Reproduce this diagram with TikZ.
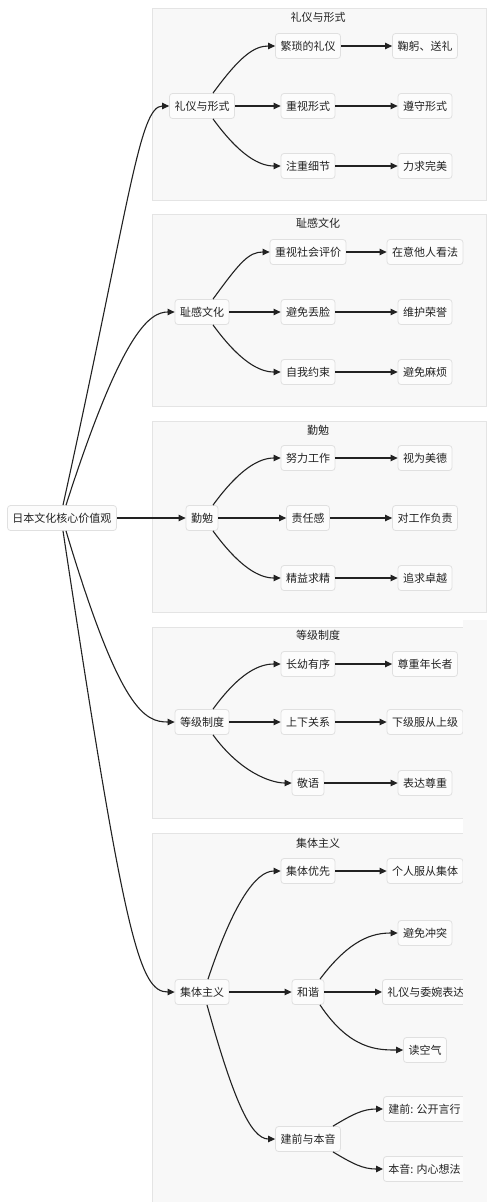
\documentclass[tikz,border=0pt]{standalone}
\usepackage{fontspec}
\setmainfont{Noto Sans CJK SC}
\usetikzlibrary{arrows.meta}

\definecolor{grpfill}{HTML}{F8F8F8}
\definecolor{grpline}{HTML}{E4E4E4}
\definecolor{itemfill}{HTML}{FCFCFC}
\definecolor{itemline}{HTML}{E0E0E0}
\definecolor{ink}{HTML}{222222}

\begin{document}
\begin{tikzpicture}[x=1pt,y=-1pt,>={Triangle[length=7pt,width=6.5pt]},
        font=\fontsize{11}{13}\selectfont,
        item/.style={draw=itemline, fill=itemfill, rounded corners=3pt, line width=0.8pt,
            minimum height=25pt, inner xsep=5pt, inner ysep=0pt, text=ink},
        link/.style={->, draw=ink, line width=1.1pt},
        grp/.style={draw=grpline, fill=grpfill, line width=0.8pt},
        grptitle/.style={text=ink, inner sep=1pt}]
        \def\xc{202}
        \def\xm{308}
        \def\xr{425}

        \useasboundingbox (0,0) rectangle (500,1202);

        % subgraphs
        \draw[grp] (152,8) rectangle (486,200);
        \draw[grp] (152,214) rectangle (486,406);
        \draw[grp] (152,421) rectangle (486,612);
        \draw[grp] (152,627) rectangle (486,818);
        \draw[grp] (152,833) rectangle (486,1210);

        \node[grptitle] (tly) at (318,17) {礼仪与形式};
        \node[grptitle] (tcg) at (318,223) {耻感文化};
        \node[grptitle] (tqm) at (318,430) {勤勉};
        \node[grptitle] (tdj) at (318,635) {等级制度};
        \node[grptitle] (tjt) at (318,843) {集体主义};

        \node[item] (root) at (62,518) {日本文化核心价值观};

        % 礼仪与形式
        \node[item] (ly) at (\xc,106) {礼仪与形式};
        \node[item] (ly1) at (\xm,46) {繁琐的礼仪};
        \node[item] (ly2) at (\xm,106) {重视形式};
        \node[item] (ly3) at (\xm,166) {注重细节};
        \node[item] (ly1r) at (\xr,46) {鞠躬、送礼};
        \node[item] (ly2r) at (\xr,106) {遵守形式};
        \node[item] (ly3r) at (\xr,166) {力求完美};

        % 耻感文化
        \node[item] (cg) at (\xc,312) {耻感文化};
        \node[item] (cg1) at (\xm,252) {重视社会评价};
        \node[item] (cg2) at (\xm,312) {避免丢脸};
        \node[item] (cg3) at (\xm,372) {自我约束};
        \node[item] (cg1r) at (\xr,252) {在意他人看法};
        \node[item] (cg2r) at (\xr,312) {维护荣誉};
        \node[item] (cg3r) at (\xr,372) {避免麻烦};

        % 勤勉
        \node[item] (qm) at (\xc,518) {勤勉};
        \node[item] (qm1) at (\xm,458) {努力工作};
        \node[item] (qm2) at (\xm,518) {责任感};
        \node[item] (qm3) at (\xm,578) {精益求精};
        \node[item] (qm1r) at (\xr,458) {视为美德};
        \node[item] (qm2r) at (\xr,518) {对工作负责};
        \node[item] (qm3r) at (\xr,578) {追求卓越};

        % 等级制度
        \node[item] (dj) at (\xc,722) {等级制度};
        \node[item] (dj1) at (\xm,664) {长幼有序};
        \node[item] (dj2) at (\xm,722) {上下关系};
        \node[item] (dj3) at (\xm,783) {敬语};
        \node[item] (dj1r) at (\xr,664) {尊重年长者};
        \node[item] (dj2r) at (\xr,722) {下级服从上级};
        \node[item] (dj3r) at (\xr,783) {表达尊重};

        % 集体主义
        \node[item] (jt) at (\xc,992) {集体主义};
        \node[item] (jt1) at (\xm,871) {集体优先};
        \node[item] (jt2) at (\xm,992) {和谐};
        \node[item] (jt3) at (\xm,1139) {建前与本音};
        \node[item] (jt1r) at (\xr,871) {个人服从集体};
        \node[item] (hx1) at (\xr,933) {避免冲突};
        \node[item, anchor=west] (hx2) at (382,992) {礼仪与委婉表达};
        \node[item] (hx3) at (\xr,1050) {读空气};
        \node[item, anchor=west] (bq1) at (383,1109) {建前: 公开言行};
        \node[item, anchor=west] (bq2) at (383,1169) {本音: 内心想法};

        % root to groups
        \draw[link] ([xshift=1pt]root.north) .. controls +(67,-304) and +(-30,0) .. (ly.west);
        \draw[link] ([xshift=4pt]root.north) .. controls +(56,-174) and +(-25,0) .. (cg.west);
        \draw[link] (root.east) -- (qm.west);
        \draw[link] ([xshift=4pt]root.south) .. controls +(54,180) and +(-30,0) .. (dj.west);
        \draw[link] ([xshift=1pt]root.south) .. controls +(62,411) and +(-35,0) .. (jt.west);

        % inside groups
        \foreach \g in {ly,cg,qm,dj}{
            \draw[link] ([xshift=11pt]\g.north) .. controls +(27,-37) and +(-21,0) .. (\g1.west);
            \draw[link] (\g.east) -- (\g2.west);
            \draw[link] ([xshift=11pt]\g.south) .. controls +(27,37) and +(-21,0) .. (\g3.west);
            \draw[link] (\g1.east) -- (\g1r.west);
            \draw[link] (\g2.east) -- (\g2r.west);
            \draw[link] (\g3.east) -- (\g3r.west);
        }

        \draw[link] ([xshift=6pt]jt.north) .. controls +(25,-75) and +(-25,0) .. (jt1.west);
        \draw[link] (jt.east) -- (jt2.west);
        \draw[link] ([xshift=5pt]jt.south) .. controls +(25,90) and +(-25,0) .. (jt3.west);
        \draw[link] (jt1.east) -- (jt1r.west);
        \draw[link] ([xshift=12pt]jt2.north) .. controls +(30,-40) and +(-25,0) .. (hx1.west);
        \draw[link] (jt2.east) -- (hx2.west);
        \draw[link] ([xshift=12pt]jt2.south) .. controls +(30,45) and +(-25,0) .. (hx3.west);
        \draw[link] ([xshift=25pt]jt3.north) .. controls +(20,-12) and +(-20,0) .. (bq1.west);
        \draw[link] ([xshift=25pt]jt3.south) .. controls +(20,12) and +(-20,0) .. (bq2.west);

        % cut strip on the right
        \fill[grpfill] (463,620) rectangle (487,1202);

    \end{tikzpicture}
\end{document}
